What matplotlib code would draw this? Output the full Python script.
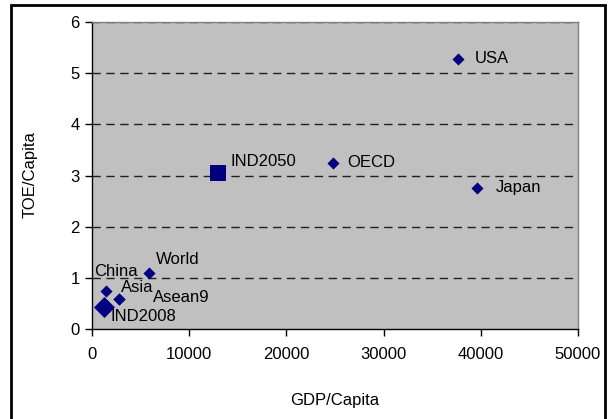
import matplotlib
matplotlib.use("Agg")
import matplotlib.pyplot as plt
from matplotlib.patches import Rectangle

plt.rcParams['font.family'] = ['Liberation Sans', 'DejaVu Sans']

names = ["USA", "OECD", "Japan", "World", "China", "Asia", "Asean9"]
gdp = [37700, 24800, 39600, 5900, 1400, 2800, 2800]
toe = [5.28, 3.25, 2.76, 1.09, 0.75, 0.58, 0.58]
# label offsets in points
offs = [(11.5, 0), (10, 0), (13.5, 0), (5, 10), (-8, 14), (1.5, 8.5), (24, 1)]

ind_names = ["IND2008"]
ind_gdp = [1200]
ind_toe = [0.43]

fut_names = ["IND2050"]
fut_gdp = [13000]
fut_toe = [3.05]

xticks = [0, 10000, 20000, 30000, 40000, 50000]
yticks = [0, 1, 2, 3, 4, 5, 6]

fig = plt.figure(figsize=(6.08, 4.19), dpi=100)
ax = fig.add_axes([92/608, 1-329/419, (578-92)/608, (329-22)/419])
ax.set_facecolor('#C0C0C0')
navy = '#000080'

ax.scatter(gdp, toe, marker='D', s=38, color=navy, zorder=3, linewidths=0)
ax.scatter(ind_gdp, ind_toe, marker='D', s=115, color=navy, zorder=3, linewidths=0)
ax.scatter(fut_gdp, fut_toe, marker='s', s=130, color=navy, zorder=3, linewidths=0)

for n, x, y, o in zip(names, gdp, toe, offs):
    ax.annotate(n, (x, y), xytext=o, textcoords='offset points', fontsize=12,
                va='center', ha='left', zorder=4)
ax.annotate(ind_names[0], (ind_gdp[0], ind_toe[0]), xytext=(5, -7),
            textcoords='offset points', fontsize=12, va='center', ha='left', zorder=4)
ax.annotate(fut_names[0], (fut_gdp[0], fut_toe[0]), xytext=(8.5, 8.5),
            textcoords='offset points', fontsize=12, va='center', ha='left', zorder=4)

ax.set_xlim(0, 50000)
ax.set_ylim(0, 6)
ax.set_xticks(xticks)
ax.set_yticks(yticks)
ax.set_xticklabels([str(t) for t in xticks], fontsize=12)
ax.set_yticklabels([str(t) for t in yticks], fontsize=12)
ax.tick_params(direction='out', length=5, width=1, color='black', pad=8)
ax.tick_params(axis='y', pad=4)
for y in yticks[1:]:
    ax.axhline(y, color='#202020', linestyle=(0, (6, 4)), linewidth=1, zorder=1)

for s in ['left', 'bottom']:
    ax.spines[s].set_color('black')
    ax.spines[s].set_linewidth(1)
for s in ['top', 'right']:
    ax.spines[s].set_color('#808080')
    ax.spines[s].set_linewidth(1)

fig.text(335/608, 1-400/419, "GDP/Capita", fontsize=12, ha='center', va='center')
fig.text(30/608, 1-175/419, "TOE/Capita", fontsize=12, ha='center', va='center',
         rotation=90)

fig.patches.append(Rectangle((11/608, -0.05), (605-11)/608, 1-5/419+0.05,
                             transform=fig.transFigure, fill=False,
                             edgecolor='black', linewidth=2))

fig.savefig("out.png", dpi=100)
